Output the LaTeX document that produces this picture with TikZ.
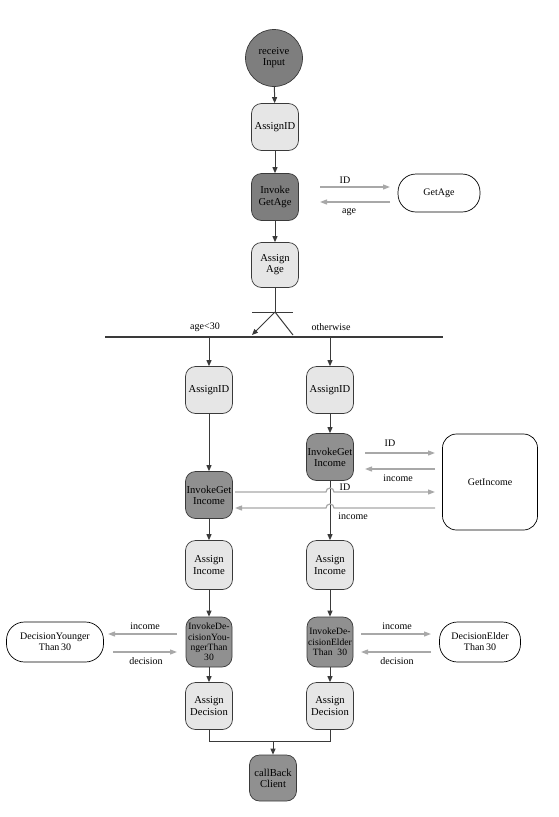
\documentclass[tikz,border=0pt]{standalone}
\usepackage{fontspec}
\setmainfont{Liberation Serif}
\usetikzlibrary{arrows.meta}
\definecolor{darkfill}{HTML}{7E7E7E}
\definecolor{midfill}{HTML}{909090}
\definecolor{lightfill}{HTML}{E6E6E6}
\definecolor{edgec}{HTML}{3A3A3A}
\definecolor{msgc}{HTML}{A8A8A8}
\begin{document}
\begin{tikzpicture}[x=1pt,y=-1pt,
  font=\fontsize{10}{11}\selectfont,
  box/.style={draw=edgec, line width=0.7pt, rounded corners=10pt, minimum width=47pt, minimum height=47pt, align=center, inner sep=1pt, font=\fontsize{10.6}{11.2}\selectfont},
  lightbox/.style={box, fill=lightfill},
  darkbox/.style={box, fill=midfill},
  svc/.style={draw=black, line width=0.7pt, rounded corners=18pt, fill=white, align=center, minimum height=38pt},
  flow/.style={draw=edgec, line width=1pt, -{Triangle[length=6pt,width=5pt]}},
  plain/.style={draw=edgec, line width=1pt},
  msg/.style={draw=msgc, line width=1.2pt, -{Triangle[length=7pt,width=5pt]}},
  lbl/.style={inner sep=1pt},
  tiny/.style={font=\fontsize{9.6}{10.4}\selectfont}
]
\useasboundingbox (0,0) rectangle (558,817);

% main trunk
\node[circle, draw=edgec, line width=0.7pt, fill=darkfill, minimum size=57pt, align=center, inner sep=0pt, font=\fontsize{10.6}{11.2}\selectfont] (recv) at (274,58) {receive\\Input};
\node[lightbox] (aid) at (275,127) {AssignID};
\node[darkbox, fill=darkfill] (iga) at (275,197) {Invoke\\GetAge};
\node[svc, minimum width=82pt] (getage) at (439,193) {GetAge};
\node[lightbox, minimum height=45pt] (aage) at (275,265) {Assign\\Age};

\draw[flow] (recv) -- (aid);
\draw[flow] (aid) -- (iga);
\draw[flow] (iga) -- (aage);

% GetAge messages
\coordinate (m1s) at (320,187); \coordinate (m1e) at (390,187);
\coordinate (m2s) at (390,202); \coordinate (m2e) at (320,202);
\draw[msg] (m1s) -- (m1e);
\draw[msg] (m2s) -- (m2e);
\node[lbl] (l1) at (345,180) {ID};
\node[lbl] (l2) at (349,212) {age};

% switch
\coordinate (split) at (275,312);
\coordinate (barl) at (252,312); \coordinate (barr) at (293,312);
\coordinate (bl) at (252,335); \coordinate (br) at (293,335);
\draw[plain] (aage) -- (split);
\draw[plain] (barl) -- (barr);
\draw[flow] (split) -- (bl);
\draw[plain] (split) -- (br);
\node[lbl] (lage) at (205,327) {age<30};
\node[lbl] (lother) at (331,327) {otherwise};
\coordinate (busl) at (105,337); \coordinate (busr) at (443,337);
\draw[edgec, line width=2pt] (busl) -- (busr);

% branches
\node[lightbox] (aidL) at (209,390) {AssignID};
\node[lightbox] (aidR) at (330,390) {AssignID};
\node[darkbox] (igiR) at (330,457) {InvokeGet\\Income};
\node[darkbox] (igiL) at (209,495) {InvokeGet\\Income};
\node[svc, rounded corners=14pt, minimum width=95pt, minimum height=96pt] (getinc) at (490,482) {GetIncome};
\node[lightbox, minimum height=49pt] (aincL) at (209,565) {Assign\\Income};
\node[lightbox, minimum height=49pt] (aincR) at (330,565) {Assign\\Income};
\node[darkbox, tiny, minimum width=46pt, minimum height=50pt, inner sep=0pt] (idy) at (209,642) {InvokeDe-\\cisionYou-\\ngerThan\\30};
\node[darkbox, tiny, minimum width=46pt, minimum height=50pt, inner sep=0pt] (ide) at (330,642) {InvokeDe-\\cisionElder\\Than\ \ 30};
\node[svc, minimum width=97pt, minimum height=40pt] (dy) at (55,642) {DecisionYounger\\Than\,30};
\node[svc, minimum width=81pt, minimum height=40pt] (de) at (480,642) {DecisionElder\\Than\,30};
\node[lightbox] (adL) at (209,706) {Assign\\Decision};
\node[lightbox] (adR) at (330,706) {Assign\\Decision};
\node[darkbox, minimum height=46pt] (cb) at (273,778) {callBack\\Client};

\draw[flow] (busl -| aidL) -- (aidL);
\draw[flow] (busl -| aidR) -- (aidR);
\draw[flow] (aidL) -- (igiL);
\draw[flow] (igiL) -- (aincL);
\draw[flow] (aincL) -- (idy);
\draw[flow] (idy) -- (adL);
\draw[flow] (aidR) -- (igiR);
\draw[flow] (igiR) -- (aincR);
\draw[flow] (aincR) -- (ide);
\draw[flow] (ide) -- (adR);

\coordinate (mj) at (273,741);
\draw[plain] (adL.south) |- (mj);
\draw[plain] (adR.south) |- (mj);
\draw[flow] (mj) -- (cb);

% GetIncome messages (right branch)
\coordinate (m3s) at (365,453); \coordinate (m3e) at (435,453);
\coordinate (m4s) at (435,469); \coordinate (m4e) at (365,469);
\draw[msg] (m3s) -- (m3e);
\draw[msg] (m4s) -- (m4e);
\node[lbl] (l3) at (390,443) {ID};
\node[lbl] (l4) at (398,478) {income};

% GetIncome messages (left branch), hopping over right trunk
\coordinate (m5s) at (235,492); \coordinate (m5e) at (435,492);
\coordinate (m6s) at (435,508); \coordinate (m6e) at (235,508);
\coordinate (h5) at (326,492); \coordinate (h6) at (334,508);
\draw[msg] (m5s) -- (h5) arc[start angle=180, end angle=0, radius=4pt] -- (m5e);
\draw[msg] (m6s) -- (h6) arc[start angle=0, end angle=180, radius=4pt] -- (m6e);
\node[lbl] (l5) at (345,487) {ID};
\node[lbl] (l6) at (353,516) {income};

% decision messages
\coordinate (m7s) at (177,634); \coordinate (m7e) at (108,634);
\coordinate (m8s) at (113,652); \coordinate (m8e) at (177,652);
\draw[msg] (m7s) -- (m7e);
\draw[msg] (m8s) -- (m8e);
\node[lbl] (l7) at (145,626) {income};
\node[lbl] (l8) at (146,661) {decision};
\coordinate (m9s) at (361,634); \coordinate (m9e) at (431,634);
\coordinate (m10s) at (431,652); \coordinate (m10e) at (361,652);
\draw[msg] (m9s) -- (m9e);
\draw[msg] (m10s) -- (m10e);
\node[lbl] (l9) at (397,626) {income};
\node[lbl] (l10) at (397,661) {decision};
\end{tikzpicture}
\end{document}
